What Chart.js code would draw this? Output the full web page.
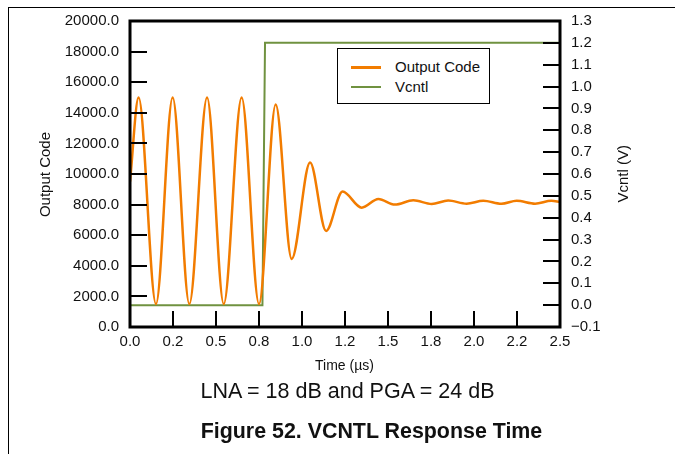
<!DOCTYPE html>
<html>
<head>
<meta charset="utf-8">
<script src="https://cdn.jsdelivr.net/npm/chart.js@4.4.1/dist/chart.umd.min.js"></script>
<style>
  body { margin: 0; background: #fff; }
  #wrap { position: relative; width: 675px; height: 454px; overflow: hidden; background: #fff;
    font-family: 'Liberation Sans', Arial, sans-serif; color: #111; }
  #chart { position: absolute; left: 0; top: 0; }
  .frameTop { position: absolute; left: 8px; top: 7px; width: 667px; height: 1px; background: #000; }
  .frameLeft { position: absolute; left: 8px; top: 7px; width: 1px; height: 447px; background: #000; }
  .vbox { position: absolute; width: 16px; height: 160px; display: flex; align-items: center; justify-content: center; }
  .vtitle { writing-mode: vertical-rl; transform: rotate(180deg); white-space: nowrap;
    font-size: 15px; line-height: 16px; }
  .caption { position: absolute; left: 0; width: 675px; text-align: center; white-space: nowrap; line-height: 1; }
  #legend { position: absolute; left: 337px; top: 48px; width: 151px; height: 54px;
    border: 1.5px solid #000; background: #fff; font-size: 15px; }
  #legend .item { position: absolute; left: 13px; height: 18px; line-height: 18px; }
  #legend .swatch { position: absolute; left: 0; top: 8px; width: 30px; height: 2.5px; }
  #legend .label { position: absolute; left: 44px; top: 0; white-space: nowrap; }
</style>
</head>
<body>
<div id="wrap">
  <div class="frameTop"></div>
  <div class="frameLeft"></div>
  <canvas id="chart" width="675" height="454"></canvas>
  <div id="legend"></div>
  <div class="vbox" style="left:37px; top:95px;"><span class="vtitle">Output Code</span></div>
  <div class="vbox" style="left:615px; top:94px;"><span class="vtitle">Vcntl (V)</span></div>
  <div class="caption" style="top:358px; font-size:14px; margin-left:7px;">Time (µs)</div>
  <div class="caption" style="top:381px; font-size:21.5px; margin-left:10px;">LNA = 18 dB and PGA = 24 dB</div>
  <div class="caption" style="top:421px; font-size:21.4px; font-weight:bold; margin-left:34px;">Figure 52. VCNTL Response Time</div>
</div>
<script>
(function () {
  const $ = (id) => document.getElementById(id);

  // Output code (left axis) at peaks and troughs
  const codeTime = [0, 0.05, 0.151, 0.248, 0.345, 0.448, 0.545, 0.649, 0.75, 0.847, 0.94,
    1.047, 1.14, 1.236, 1.347, 1.444, 1.54, 1.647, 1.754, 1.85, 1.957, 2.054, 2.16, 2.248,
    2.355, 2.45, 2.5];
  const codeValue = [9500, 15000, 1500, 15000, 1500, 15000, 1500, 15000, 1500, 14550, 4450,
    10750, 6280, 8850, 7800, 8370, 8000, 8280, 8040, 8260, 8060, 8250, 8050, 8250,
    8060, 8250, 8180];

  // Vcntl step (right axis)
  const vcntlTime = [0, 0.77, 0.785, 2.5];
  const vcntlValue = [0, 0, 1.2, 1.2];

  // Axis ticks
  const codeTicks = [0, 2000, 4000, 6000, 8000, 10000, 12000, 14000, 16000, 18000, 20000];
  const voltTicks = [-0.1, 0, 0.1, 0.2, 0.3, 0.4, 0.5, 0.6, 0.7, 0.8, 0.9, 1.0, 1.1, 1.2, 1.3];
  const voltTickLabels = ['\u22120.1', '0.0', '0.1', '0.2', '0.3', '0.4', '0.5', '0.6', '0.7',
    '0.8', '0.9', '1.0', '1.1', '1.2', '1.3'];
  const timeTicks = [0, 0.25, 0.5, 0.75, 1.0, 1.25, 1.5, 1.75, 2.0, 2.25, 2.5];
  const timeTickLabels = ['0.0', '0.2', '0.5', '0.8', '1.0', '1.2', '1.5', '1.8', '2.0', '2.2', '2.5'];

  const ORANGE = '#f27c00';
  const GREEN = '#709240';

  Chart.defaults.font.family = "'Liberation Sans', Arial, sans-serif";
  Chart.defaults.font.size = 15;
  Chart.defaults.color = '#111';

  const setTicks = (values) => (scale) => { scale.ticks = values.map((v) => ({ value: v })); };

  // Plot frame plus tick marks pointing into the plot
  const frameAndTicks = {
    id: 'frameAndTicks',
    afterDraw(chart) {
      const { ctx, chartArea: a, scales } = chart;
      const len = 17;
      ctx.save();
      ctx.strokeStyle = '#000';
      ctx.lineWidth = 2;
      ctx.beginPath();
      codeTicks.slice(1, -1).forEach((v) => {
        const y = Math.round(scales.y.getPixelForValue(v));
        ctx.moveTo(a.left, y); ctx.lineTo(a.left + len, y);
      });
      voltTicks.slice(1, -1).forEach((v) => {
        const y = Math.round(scales.y1.getPixelForValue(v));
        ctx.moveTo(a.right, y); ctx.lineTo(a.right - len, y);
      });
      timeTicks.slice(1, -1).forEach((v) => {
        const x = Math.round(scales.x.getPixelForValue(v));
        ctx.moveTo(x, a.bottom); ctx.lineTo(x, a.bottom - 16);
      });
      ctx.stroke();
      ctx.lineWidth = 3;
      ctx.strokeRect(a.left, a.top, a.right - a.left, a.bottom - a.top);
      ctx.restore();
    },
  };

  const chart = new Chart($('chart'), {
    type: 'line',
    data: {
      datasets: [
        {
          label: 'Output Code',
          data: codeTime.map((t, i) => ({ x: t, y: codeValue[i] })),
          yAxisID: 'y',
          borderColor: ORANGE,
          borderWidth: 2.5,
          pointRadius: 0,
          cubicInterpolationMode: 'monotone',
        },
        {
          label: 'Vcntl',
          data: vcntlTime.map((t, i) => ({ x: t, y: vcntlValue[i] })),
          yAxisID: 'y1',
          borderColor: GREEN,
          borderWidth: 2,
          pointRadius: 0,
          tension: 0,
        },
      ],
    },
    options: {
      responsive: false,
      animation: false,
      devicePixelRatio: 1,
      layout: { padding: { top: 21, left: 0, right: 0, bottom: 0 } },
      plugins: { legend: { display: false }, tooltip: { enabled: false } },
      scales: {
        x: {
          type: 'linear', min: 0, max: 2.5,
          grid: { display: false, drawTicks: false },
          border: { display: false },
          afterBuildTicks: setTicks(timeTicks),
          afterFit: (s) => { s.height = 127; },
          ticks: { autoSkip: false, maxRotation: 0, padding: 6,
            callback: (v, i) => timeTickLabels[i] },
        },
        y: {
          position: 'left', min: 0, max: 20000,
          grid: { display: false, drawTicks: false },
          border: { display: false },
          afterBuildTicks: setTicks(codeTicks),
          afterFit: (s) => { s.width = 130; },
          ticks: { autoSkip: false, padding: 11, callback: (v) => v.toFixed(1) },
        },
        y1: {
          position: 'right', min: -0.1, max: 1.3,
          grid: { display: false, drawTicks: false },
          border: { display: false },
          afterBuildTicks: setTicks(voltTicks),
          afterFit: (s) => { s.width = 115; },
          ticks: { autoSkip: false, padding: 11, callback: (v, i) => voltTickLabels[i] },
        },
      },
    },
    plugins: [frameAndTicks],
  });

  // Legend box built from the datasets
  const legend = $('legend');
  chart.data.datasets.forEach((ds, i) => {
    const item = document.createElement('div');
    item.className = 'item';
    item.style.top = (9 + i * 19.5) + 'px';
    item.innerHTML = '<div class="swatch"></div><div class="label"></div>';
    item.querySelector('.swatch').style.background = ds.borderColor;
    item.querySelector('.label').textContent = ds.label;
    legend.appendChild(item);
  });
})();
</script>
</body>
</html>
